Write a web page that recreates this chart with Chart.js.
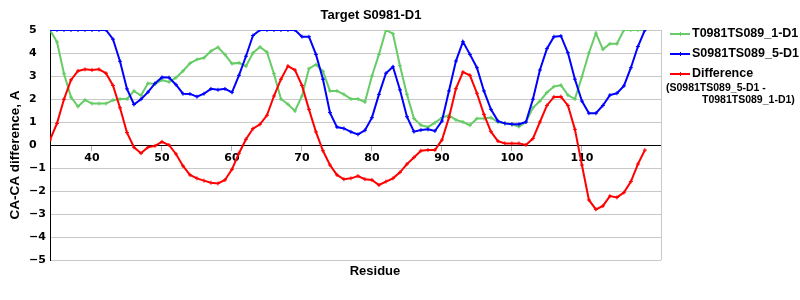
<!DOCTYPE html>
<html>
<head>
<meta charset="utf-8">
<script src="https://cdn.jsdelivr.net/npm/chart.js@4/dist/chart.umd.min.js"></script>
<style>
  html, body { margin: 0; padding: 0; background: #fff; }
</style>
</head>
<body>
<canvas id="chart" width="800" height="300"></canvas>
<script>
const chartTitle = 'Target S0981-D1'
const xTitle = 'Residue'
const yTitle = 'CA-CA difference, A'

const residues = [34, 35, 36, 37, 38, 39, 40, 41, 42, 43, 44, 45, 46, 47, 48, 49, 50, 51, 52, 53,
  54, 55, 56, 57, 58, 59, 60, 61, 62, 63, 64, 65, 66, 67, 68, 69, 70, 71, 72, 73,
  74, 75, 76, 77, 78, 79, 80, 81, 82, 83, 84, 85, 86, 87, 88, 89, 90, 91, 92, 93,
  94, 95, 96, 97, 98, 99, 100, 101, 102, 103, 104, 105, 106, 107, 108, 109, 110, 111, 112, 113,
  114, 115, 116, 117, 118, 119]
const xTicks = [40, 50, 60, 70, 80, 90, 100, 110]

const seriesNames = ['T0981TS089_1-D1', 'S0981TS089_5-D1', 'Difference']
const diffNote = ['(S0981TS089_5-D1 -', 'T0981TS089_1-D1)']

// T0981TS089_1-D1
const model1 = [5.0, 4.48, 3.1, 2.08, 1.67, 1.96, 1.8, 1.8, 1.8, 1.95, 2.0, 2.0, 2.35, 2.15, 2.68, 2.65, 2.82, 2.74, 2.93, 3.22,
  3.55, 3.72, 3.79, 4.08, 4.25, 3.93, 3.54, 3.57, 3.43, 4.0, 4.26, 4.04, 3.1, 2.0, 1.77, 1.48, 2.13, 3.32, 3.5, 3.2,
  2.35, 2.35, 2.2, 2.0, 2.0, 1.87, 3.0, 3.94, 5.0, 4.84, 3.45, 2.2, 1.15, 0.86, 0.78, 0.97, 1.19, 1.29, 1.09, 1.0,
  0.86, 1.15, 1.15, 1.19, 1.0, 0.94, 0.9, 0.8, 1.0, 1.62, 1.91, 2.28, 2.54, 2.6, 2.17, 2.0, 2.97, 4.0, 4.86, 4.16,
  4.4, 4.4, 5.0, 5.0, 5.0, 5.0]

// S0981TS089_5-D1
const model5 = [5.0, 5.0, 5.0, 5.0, 5.0, 5.0, 5.0, 5.0, 5.0, 4.6, 3.64, 2.44, 1.76, 1.99, 2.3, 2.68, 2.94, 2.93, 2.62, 2.23,
  2.22, 2.1, 2.23, 2.44, 2.4, 2.44, 2.29, 3.03, 3.86, 4.76, 5.0, 5.0, 5.0, 5.0, 5.0, 5.0, 4.71, 4.71, 3.94, 2.86,
  1.41, 0.78, 0.72, 0.57, 0.46, 0.64, 1.19, 2.2, 3.12, 3.4, 2.4, 1.23, 0.58, 0.65, 0.68, 0.61, 1.04, 2.35, 3.65, 4.49,
  3.94, 3.36, 2.35, 1.55, 1.04, 0.94, 0.9, 0.9, 1.0, 1.99, 3.26, 4.19, 4.71, 4.74, 4.01, 2.86, 1.91, 1.38, 1.38, 1.72,
  2.17, 2.25, 2.57, 3.36, 4.28, 5.0]

// Difference
const diff = [0.22, 0.94, 1.99, 2.83, 3.22, 3.29, 3.26, 3.29, 3.12, 2.59, 1.62, 0.54, -0.1, -0.36, -0.1, -0.04, 0.14, 0.0, -0.39, -0.91,
  -1.3, -1.45, -1.55, -1.64, -1.67, -1.52, -1.06, -0.36, 0.25, 0.71, 0.9, 1.29, 2.13, 2.86, 3.43, 3.26, 2.59, 1.55, 0.57, -0.25,
  -0.87, -1.3, -1.49, -1.45, -1.35, -1.49, -1.52, -1.74, -1.59, -1.45, -1.19, -0.83, -0.54, -0.25, -0.22, -0.22, 0.22, 1.19, 2.45, 3.17,
  3.03, 2.25, 1.33, 0.58, 0.17, 0.07, 0.07, 0.07, 0.0, 0.28, 1.0, 1.72, 2.09, 2.1, 1.72, 0.68, -0.87, -2.39, -2.8, -2.65,
  -2.22, -2.28, -2.07, -1.59, -0.83, -0.22]

const colors = ['#66cc66', '#0000ff', '#ff0000']
const FONT = '"Liberation Sans", Arial, sans-serif'
const TICK_FONT = '"DejaVu Sans", sans-serif'

const toPoints = (vals) => vals.map((v, i) => ({ x: residues[i], y: v }))

const makeSet = (i, vals) => ({
    label: seriesNames[i],
    data: toPoints(vals),
    borderColor: colors[i],
    backgroundColor: colors[i],
    borderWidth: 2,
    pointStyle: 'cross',
    pointRadius: 2,
    pointBorderWidth: 1,
    pointHoverRadius: 2,
    tension: 0,
    order: 3 - i
})

// titles, legend and right frame line
const extras = {
    id: 'extras',
    afterDraw(c) {
        const ctx = c.ctx
        const a = c.chartArea
        ctx.save()
        ctx.strokeStyle = '#c8c8c8'
        ctx.lineWidth = 1
        ctx.beginPath()
        ctx.moveTo(Math.round(a.right) + 0.5, a.top)
        ctx.lineTo(Math.round(a.right) + 0.5, a.bottom)
        ctx.stroke()

        ctx.fillStyle = '#000'
        ctx.font = 'bold 13px ' + FONT
        ctx.textAlign = 'center'
        ctx.textBaseline = 'middle'
        ctx.fillText(chartTitle, 371, 15)
        ctx.fillText(xTitle, 375, 271)
        ctx.save()
        ctx.translate(15, 155)
        ctx.rotate(-Math.PI / 2)
        ctx.font = 'bold 13.5px ' + FONT
        ctx.fillText(yTitle, 0, 0)
        ctx.restore()

        // legend
        const rows = [34, 54, 74]
        ctx.textAlign = 'left'
        rows.forEach((y, i) => {
            ctx.strokeStyle = colors[i]
            ctx.lineWidth = 2
            ctx.beginPath()
            ctx.moveTo(670, y)
            ctx.lineTo(690, y)
            ctx.stroke()
            ctx.lineWidth = 1
            ctx.beginPath()
            ctx.moveTo(680.5, y - 2)
            ctx.lineTo(680.5, y + 2)
            ctx.stroke()
            ctx.fillStyle = '#000'
            ctx.font = 'bold 12.5px ' + FONT
            ctx.fillText(seriesNames[i], 692, y)
        })
        ctx.font = 'bold 10.5px ' + FONT
        ctx.fillText(diffNote[0], 666, 88)
        ctx.fillText(diffNote[1], 702, 100)
        ctx.restore()
    }
}

const chart = new Chart(document.getElementById('chart'), {
    type: 'line',
    data: {
        datasets: [makeSet(0, model1), makeSet(1, model5), makeSet(2, diff)]
    },
    options: {
        responsive: false,
        animation: false,
        layout: { padding: { left: 29, right: 139, top: 30, bottom: 40 } },
        plugins: {
            legend: { display: false },
            title: { display: false },
            tooltip: { enabled: false }
        },
        scales: {
            x: {
                type: 'linear',
                position: { y: 0 },
                min: 34,
                max: 121.3,
                afterBuildTicks: (axis) => { axis.ticks = xTicks.map(v => ({ value: v })) },
                grid: { drawOnChartArea: false, drawTicks: true, tickLength: 5, tickColor: '#b0b0b0' },
                border: { color: '#000', width: 1 },
                ticks: {
                    color: '#000',
                    padding: 2,
                    maxRotation: 0,
                    font: { family: TICK_FONT, size: 11, weight: 'bold' }
                }
            },
            y: {
                min: -5,
                max: 5,
                afterFit: (s) => { s.width = 21 },
                grid: { color: '#c8c8c8', drawTicks: false, tickLength: 0 },
                border: { color: '#000', width: 1 },
                ticks: {
                    stepSize: 1,
                    padding: 0,
                    crossAlign: 'far',
                    color: '#000',
                    font: { family: TICK_FONT, size: 11, weight: 'bold' },
                    callback: (v) => v < 0 ? '\u2212' + Math.abs(v) : String(v)
                }
            }
        }
    },
    plugins: [extras]
})
</script>
</body>
</html>
